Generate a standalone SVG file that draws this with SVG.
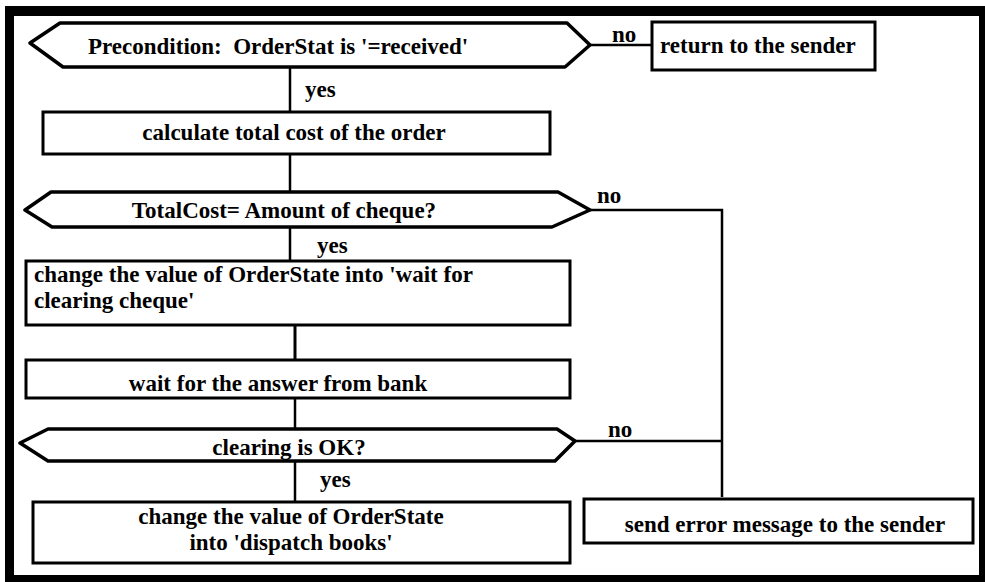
<svg xmlns="http://www.w3.org/2000/svg" width="985" height="582" viewBox="0 0 985 582">
<style>
.box{fill:#fff;stroke:#000;stroke-width:3}
.dec{fill:#fff;stroke:#000;stroke-width:3.5;stroke-linejoin:round}
.con{fill:none;stroke:#000;stroke-width:2.5}
text{font-family:'Liberation Serif','DejaVu Serif','Times New Roman',serif;font-weight:bold;font-size:23px;fill:#000}
.c{text-anchor:middle}
</style>
<rect x="0" y="0" width="985" height="582" fill="#fff"/>
<path d="M5 6H985V582H5Z M14 16V575H979V16Z" fill="#000" fill-rule="evenodd"/>
<g id="connectors">
<path class="con" d="M290 67V112"/>
<path class="con" d="M590 45H652"/>
<path class="con" d="M290 155V192"/>
<path class="con" d="M290 227V260"/>
<path class="con" d="M295 325V362" style="stroke-width:3"/>
<path class="con" d="M295 398V429"/>
<path class="con" d="M295 461V502"/>
<path class="con" d="M590 210H722V497"/>
<path class="con" d="M575 441H722"/>
<text x="305" y="97">yes</text>
<text x="612" y="42">no</text>
<text x="317" y="253">yes</text>
<text x="597" y="203">no</text>
<text x="608" y="437">no</text>
<text x="320" y="487">yes</text>
</g>
<g id="d1">
<polygon class="dec" points="60,23 567,23 590,45 565,67 63,67 30,43"/>
<text x="88" y="54" xml:space="preserve">Precondition:  OrderStat is '=received'</text>
</g>
<g id="r0">
<rect class="box" x="652" y="22" width="223" height="48"/>
<text x="660" y="53">return to the sender</text>
</g>
<g id="b1">
<rect class="box" x="43" y="112" width="507" height="42"/>
<text class="c" x="294" y="140">calculate total cost of the order</text>
</g>
<g id="d2">
<polygon class="dec" points="51,192 558,192 590,210 552,227 52,227 25,210"/>
<text class="c" x="284" y="218">TotalCost= Amount of cheque?</text>
</g>
<g id="b3">
<rect class="box" x="26" y="261" width="544" height="64"/>
<text x="34" y="282">change the value of OrderState into 'wait for</text>
<text x="34" y="308">clearing cheque'</text>
</g>
<g id="b4">
<rect class="box" x="26" y="360" width="544" height="38"/>
<text class="c" x="278" y="391">wait for the answer from bank</text>
</g>
<g id="d3">
<polygon class="dec" points="48,429 557,429 575,441 555,461 48,461 20,443"/>
<text class="c" x="289" y="455">clearing is OK?</text>
</g>
<g id="b5">
<rect class="box" x="33" y="502" width="537" height="61"/>
<text class="c" x="291" y="524">change the value of OrderState</text>
<text class="c" x="291" y="550">into 'dispatch books'</text>
</g>
<g id="b6">
<rect class="box" x="584" y="499" width="389" height="44"/>
<text class="c" x="785" y="532">send error message to the sender</text>
</g>
</svg>
